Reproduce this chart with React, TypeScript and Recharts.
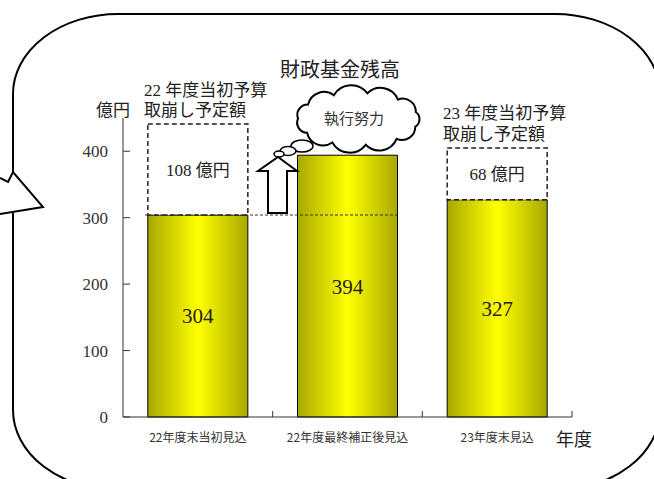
import { BarChart, Bar, XAxis, YAxis, LabelList, ReferenceLine } from "recharts";

const categories = ["22年度末当初見込", "22年度最終補正後見込", "23年度末見込"];
const balances = [304, 394, 327];
// dashed "取崩し予定額" boxes stacked on the bars (drawn taller than scale in the source)
const drawdownBoxes = [137, 0, 78];
const drawdownLabels = ["108 億円", "", "68 億円"];
const yTicks = [0, 100, 200, 300, 400];

const data = categories.map((name, i) => ({
  name,
  value: balances[i],
  cap: drawdownBoxes[i],
  capLabel: drawdownLabels[i],
}));

const SERIF = "'Liberation Serif', 'Noto Sans CJK JP', serif";
const SANS = "'Noto Sans CJK JP', sans-serif";
const W = 654;
const H = 479;
const margin = { top: 118, right: 82, bottom: 32, left: 63 };
const halfBand = (W - 123 - margin.right) / categories.length / 2;

function XTick(props: any) {
  const { x, y, payload } = props;
  return (
    <g>
      <line x1={x + halfBand} y1={y} x2={x + halfBand} y2={y - 6} stroke="#333" />
      <text x={x} y={y + 25} textAnchor="middle" fontSize={12} fill="#333" fontFamily={SANS}>
        {payload.value}
      </text>
    </g>
  );
}

function YTick(props: any) {
  const { x, y, payload } = props;
  return (
    <g>
      <line x1={x} y1={y} x2={x + 7} y2={y} stroke="#333" />
      <text x={x - 15} y={y + 6} textAnchor="end" fontSize={17} fill="#333" fontFamily={SERIF}>
        {payload.value}
      </text>
    </g>
  );
}

function cloudPath(cx: number, cy: number, rx: number, ry: number, n: number) {
  const pts: [number, number][] = [];
  for (let i = 0; i < n; i++) {
    const a = (i / n) * Math.PI * 2 + 0.3;
    pts.push([cx + rx * Math.cos(a), cy + ry * Math.sin(a)]);
  }
  let d = `M${pts[0][0]},${pts[0][1]}`;
  for (let i = 1; i <= n; i++) {
    const [px, py] = pts[i - 1];
    const [x, y] = pts[i % n];
    const r = Math.hypot(x - px, y - py) * 0.6;
    d += ` A${r},${r} 0 0 1 ${x},${y}`;
  }
  return d + " Z";
}

export default function App() {
  return (
    <div style={{ position: "absolute", left: 0, top: 0, width: W, height: H, background: "#fff" }}>
      <BarChart width={W} height={H} data={data} margin={margin} barCategoryGap="16.6%">
        <defs>
          <linearGradient id="barGrad" x1="0" y1="0" x2="1" y2="0">
            <stop offset="0%" stopColor="#a8a800" />
            <stop offset="50%" stopColor="#ffff00" />
            <stop offset="100%" stopColor="#a8a800" />
          </linearGradient>
        </defs>
        <XAxis
          dataKey="name"
          tickLine={false}
          tickSize={0}
          tickMargin={0}
          tick={<XTick />}
          stroke="#333"
          height={30}
          interval={0}
        />
        <YAxis
          domain={[0, 450]}
          ticks={yTicks}
          width={60}
          tickLine={false}
          tickSize={0}
          tickMargin={0}
          tick={<YTick />}
          stroke="#333"
        />
        <ReferenceLine
          y={304}
          shape={(p: any) => (
            <line
              x1={p.x1 + 22}
              x2={p.x1 + 277}
              y1={p.y1}
              y2={p.y2}
              stroke="#333"
              strokeDasharray="3 2"
            />
          )}
        />
        <Bar dataKey="value" stackId="a" fill="url(#barGrad)" stroke="#000" strokeWidth={1} isAnimationActive={false}>
          <LabelList dataKey="value" position="center" fontSize={21} fill="#222" fontFamily={SERIF} />
        </Bar>
        <Bar
          dataKey="cap"
          stackId="a"
          fill="#fff"
          stroke="#222"
          strokeWidth={1.5}
          strokeDasharray="5 3"
          isAnimationActive={false}
        >
          <LabelList dataKey="capLabel" position="center" fontSize={17} fill="#222" fontFamily={SERIF} />
        </Bar>
      </BarChart>

      <svg
        width={W}
        height={H}
        style={{ position: "absolute", left: 0, top: 0, pointerEvents: "none" }}
      >
        <path
          d="M13 172 V94 A105 80 0 0 1 118 14 H555 A105 80 0 0 1 660 94 V410 A105 80 0 0 1 555 490 H118 A105 80 0 0 1 13 410 V213"
          fill="none"
          stroke="#000"
          strokeWidth={2}
        />
        <polyline points="0,178 8,182 13,172 43,207 0,214" fill="none" stroke="#000" strokeWidth={2} />

        <text x={340} y={77} textAnchor="middle" fontSize={20} fill="#222" fontFamily={SERIF}>
          財政基金残高
        </text>

        <text x={144} y={96} fontSize={17} fill="#222" fontFamily={SERIF}>22 年度当初予算</text>
        <text x={144} y={116} fontSize={17} fill="#222" fontFamily={SERIF}>取崩し予定額</text>
        <text x={113} y={116} textAnchor="middle" fontSize={17} fill="#222" fontFamily={SERIF}>億円</text>

        <text x={443} y={119} fontSize={17} fill="#222" fontFamily={SERIF}>23 年度当初予算</text>
        <text x={443} y={140} fontSize={17} fill="#222" fontFamily={SERIF}>取崩し予定額</text>

        <text x={574} y={446} textAnchor="middle" fontSize={18} fill="#222" fontFamily={SERIF}>年度</text>

        <path d={cloudPath(358, 119, 60, 26, 11)} fill="#fff" stroke="#000" strokeWidth={2} />
        <text x={354} y={124} textAnchor="middle" fontSize={15} fill="#333" fontFamily={SANS}>執行努力</text>
        <ellipse cx={302} cy={146} rx={11} ry={6} fill="#fff" stroke="#000" strokeWidth={1.5} />
        <ellipse cx={288} cy={151} rx={8} ry={4.5} fill="#fff" stroke="#000" strokeWidth={1.5} />
        <ellipse cx={279} cy={154} rx={5} ry={3} fill="#fff" stroke="#000" strokeWidth={1.5} />

        <polygon
          points="278,157 297,171 287,171 287,213 268,213 268,171 258,171"
          fill="#fff"
          stroke="#000"
          strokeWidth={2}
        />
      </svg>
    </div>
  );
}
